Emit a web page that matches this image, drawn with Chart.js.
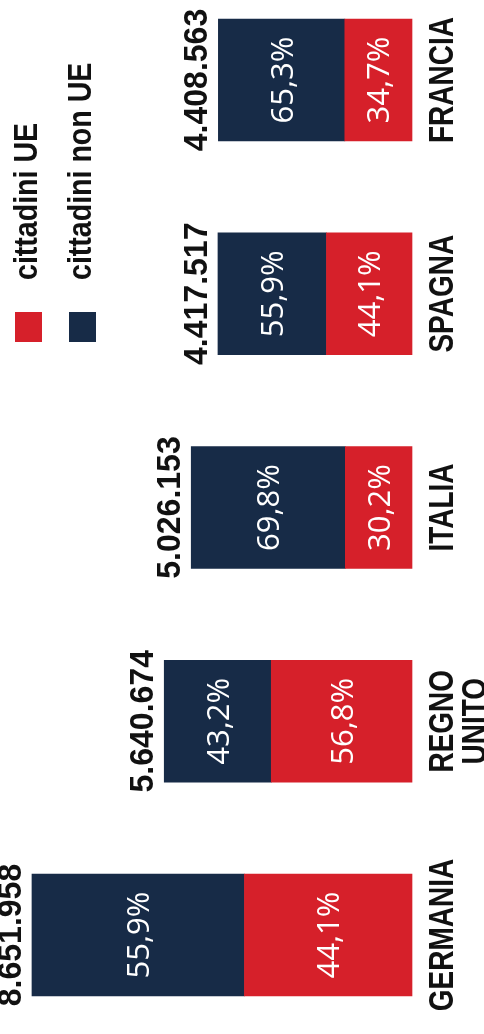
<!DOCTYPE html>
<html>
<head>
<meta charset="utf-8">
<script src="https://cdn.jsdelivr.net/npm/chart.js@4/dist/chart.umd.min.js"></script>
<style>
html,body{margin:0;padding:0;background:#fff;}
#c{display:block;}
</style>
</head>
<body>
<canvas id="c" width="484" height="1034"></canvas>
<script>
const categories = ['GERMANIA', 'REGNO\nUNITO', 'ITALIA', 'SPAGNA', 'FRANCIA'];
const totals = [8651958, 5640674, 5026153, 4417517, 4408563];
const pctUE = [44.1, 56.8, 30.2, 44.1, 34.7];
const pctNonUE = [55.9, 43.2, 69.8, 55.9, 65.3];
const seriesNames = ['cittadini UE', 'cittadini non UE'];
const colorUE = '#d6202a';
const colorNonUE = '#172b47';

const valuesUE = totals.map((t, i) => t * pctUE[i] / 100);
const valuesNonUE = totals.map((t, i) => t * pctNonUE[i] / 100);
const pcts = [pctUE, pctNonUE];

function fmtTotal(n) { return String(n).replace(/\B(?=(\d{3})+(?!\d))/g, '.'); }
function fmtPct(v) { return v.toFixed(1).replace('.', ',') + '%'; }

function rotText(ctx, text, x, y, align, sx) {
  ctx.save();
  ctx.translate(x, y);
  ctx.rotate(-Math.PI / 2);
  ctx.scale(sx || 1, 1);
  ctx.textAlign = align;
  ctx.textBaseline = 'alphabetic';
  ctx.fillText(text, 0, 0);
  ctx.restore();
}

const labelsPlugin = {
  id: 'labelsPlugin',
  afterDatasetsDraw(chart) {
    const ctx = chart.ctx;
    // percentages inside segments
    ctx.fillStyle = '#ffffff';
    ctx.font = '31px "Open Sans"';
    chart.data.datasets.forEach((ds, di) => {
      const meta = chart.getDatasetMeta(di);
      meta.data.forEach((el, i) => {
        const cx = (el.x + el.base) / 2;
        rotText(ctx, fmtPct(pcts[di][i]), cx + 11, el.y, 'center');
      });
    });
    // totals left of bars
    const topMeta = chart.getDatasetMeta(chart.data.datasets.length - 1);
    ctx.fillStyle = '#111111';
    ctx.font = 'bold 33px "Liberation Sans"';
    topMeta.data.forEach((el, i) => {
      rotText(ctx, fmtTotal(totals[i]), el.x - 11, el.y, 'center', 0.97);
    });
    // category labels right of bars
    ctx.font = 'bold 35px "Liberation Sans"';
    const baseMeta = chart.getDatasetMeta(0);
    baseMeta.data.forEach((el, i) => {
      const lines = categories[i].split('\n');
      lines.forEach((ln, li) => {
        rotText(ctx, ln, el.base + 41 + li * 33, el.y, 'center', 0.8);
      });
    });
    // legend
    const legendX = [15, 69];
    const colors = [colorUE, colorNonUE];
    seriesNames.forEach((name, k) => {
      ctx.fillStyle = colors[k];
      ctx.fillRect(legendX[k], 312, 27, 30);
      ctx.fillStyle = '#111111';
      ctx.font = 'bold 34px "Liberation Sans"';
      rotText(ctx, name, legendX[k] + 22, 280, 'left', 0.84);
    });
  }
};

new Chart(document.getElementById('c'), {
  type: 'bar',
  data: {
    labels: categories,
    datasets: [
      { label: seriesNames[0], data: valuesUE, backgroundColor: colorUE, barThickness: 122, clip: false },
      { label: seriesNames[1], data: valuesNonUE, backgroundColor: colorNonUE, barThickness: 122, clip: false }
    ]
  },
  options: {
    indexAxis: 'y',
    responsive: false,
    animation: false,
    layout: { padding: { left: 0, right: 72, top: 80, bottom: 99 } },
    plugins: { legend: { display: false }, tooltip: { enabled: false } },
    scales: {
      x: { stacked: true, reverse: true, min: 0, max: 9380000, display: false },
      y: { stacked: true, reverse: true, offset: false, display: false }
    }
  },
  plugins: [labelsPlugin]
});
</script>
</body>
</html>
